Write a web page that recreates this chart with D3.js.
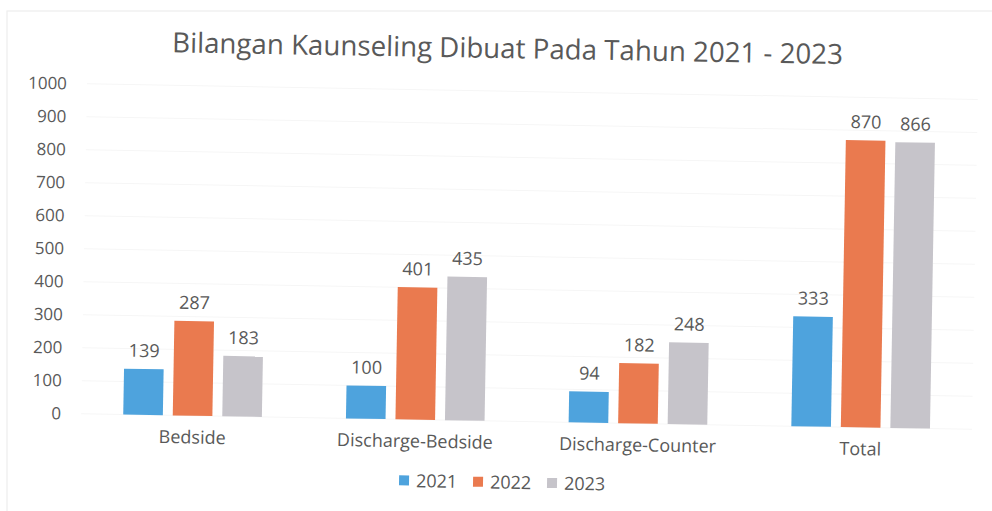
<!DOCTYPE html>
<html>
<head>
<meta charset="utf-8">
<script src="https://cdn.jsdelivr.net/npm/d3@7/dist/d3.min.js"></script>
<style>
  html, body { margin: 0; padding: 0; background: #fff; }
  svg { display: block; }
  text { font-family: "Open Sans", "Noto Sans", sans-serif; fill: #595959; }
</style>
</head>
<body>
<svg id="chart" width="992" height="511"></svg>
<script>
const title = "Bilangan Kaunseling Dibuat Pada Tahun 2021 - 2023";
const categories = ["Bedside", "Discharge-Bedside", "Discharge-Counter", "Total"];
const seriesNames = ["2021", "2022", "2023"];
const values2021 = [139, 100, 94, 333];
const values2022 = [287, 401, 182, 870];
const values2023 = [183, 435, 248, 866];
const yTicks = [0, 100, 200, 300, 400, 500, 600, 700, 800, 900, 1000];
const colors = ["#4ea3dd", "#ea7a4f", "#c6c4ca"];

const seriesValues = [values2021, values2022, values2023];
const data = categories.map((c, i) => ({
  category: c,
  values: seriesNames.map((s, j) => ({ series: s, value: seriesValues[j][i] }))
}));

const svg = d3.select("#chart");

// faint scanned frame
svg.append("rect").attr("x", 7).attr("y", 11).attr("width", 1000).attr("height", 520)
  .attr("fill", "none").attr("stroke", "#ededed").attr("stroke-width", 1.2);

const g = svg.append("g").attr("transform", "rotate(1.0, 496, 255)");

const plotLeft = 84, plotRight = 975, plotTop = 91, plotBottom = 421;

const x0 = d3.scaleBand().domain(categories).range([plotLeft, plotRight])
  .paddingInner(0.333).paddingOuter(0.1667);
const x1 = d3.scaleBand().domain(seriesNames).range([0, x0.bandwidth()]).paddingInner(0.2).paddingOuter(0.1);
const y = d3.scaleLinear().domain([0, 1000]).range([plotBottom, plotTop]);
const color = d3.scaleOrdinal().domain(seriesNames).range(colors);

// gridlines (very faint in the scan)
g.append("g").selectAll("line").data(yTicks).join("line")
  .attr("x1", plotLeft).attr("x2", plotRight)
  .attr("y1", d => y(d)).attr("y2", d => y(d))
  .attr("stroke", "#f6f6f6").attr("stroke-width", 1);

// y axis
const yAxis = d3.axisLeft(y).tickValues(yTicks).tickFormat(d3.format("d")).tickSize(0).tickPadding(0);
const ya = g.append("g").attr("transform", `translate(64,0)`).call(yAxis);
ya.select(".domain").remove();
ya.selectAll("text").style("font-size", "17px").attr("fill", "#595959")
  .style("font-family", "'Open Sans', sans-serif");

// bars
const groups = g.append("g").selectAll("g").data(data).join("g")
  .attr("transform", d => `translate(${x0(d.category)},0)`);

groups.selectAll("rect").data(d => d.values).join("rect")
  .attr("x", d => x1(d.series))
  .attr("y", d => y(d.value))
  .attr("width", x1.bandwidth())
  .attr("height", d => y(0) - y(d.value))
  .attr("fill", d => color(d.series));

groups.selectAll("text.lbl").data(d => d.values).join("text")
  .attr("class", "lbl")
  .attr("x", d => x1(d.series) + x1.bandwidth() / 2)
  .attr("y", d => y(d.value) - 12)
  .attr("text-anchor", "middle")
  .style("font-size", "18px")
  .text(d => d.value);

// x axis labels
const xAxis = d3.axisBottom(x0).tickSize(0).tickPadding(0);
const xa = g.append("g").attr("transform", `translate(0,${plotBottom + 15})`).call(xAxis);
xa.select(".domain").remove();
xa.selectAll("text").style("font-size", "18px").attr("fill", "#595959")
  .style("font-family", "'Open Sans', sans-serif");

// title
g.append("text").attr("x", 504).attr("y", 58).attr("text-anchor", "middle")
  .style("font-size", "27.7px").text(title);

// legend
const legendX = [403, 477, 551];
const lg = g.append("g").selectAll("g").data(seriesNames).join("g")
  .attr("transform", (d, i) => `translate(${legendX[i]},482)`);
lg.append("rect").attr("x", 0).attr("y", -5).attr("width", 10).attr("height", 10)
  .attr("fill", d => color(d));
lg.append("text").attr("x", 17).attr("y", 6.5).style("font-size", "18px").text(d => d);
</script>
</body>
</html>
